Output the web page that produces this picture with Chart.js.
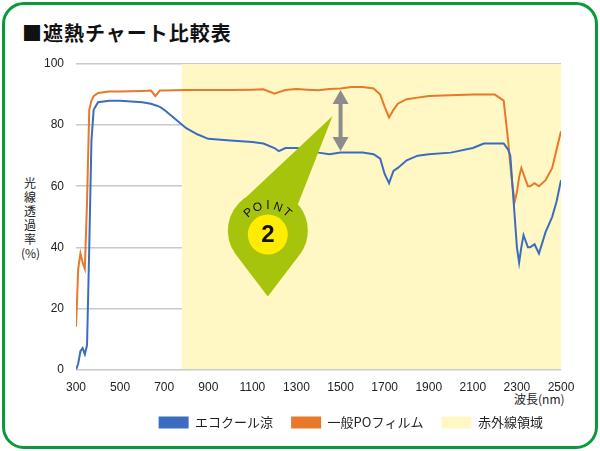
<!DOCTYPE html>
<html><head><meta charset="utf-8">
<script src="https://cdn.jsdelivr.net/npm/chart.js@4"></script>
<style>
body{margin:0;background:#fff;font-family:"Noto Sans CJK JP",sans-serif;}
#wrap{position:relative;width:600px;height:451px;}
#frame{position:absolute;left:2px;top:2px;width:590px;height:441px;border:3px solid #0a9a3c;border-radius:22px;}
#title{position:absolute;left:22px;top:18px;font-size:20px;font-weight:bold;color:#111;letter-spacing:1px;}
#ylab{position:absolute;left:24px;top:176px;width:14px;font-size:12px;line-height:14px;color:#222;}
#xlab{position:absolute;left:514px;top:390px;font-size:12px;color:#222;}
canvas{position:absolute;left:0;top:0;}
</style></head><body>
<div id="wrap">
<div id="frame"></div>
<div id="title">■遮熱チャート比較表</div>
<div id="ylab">光線透過率<br><span style="margin-left:-3px">(%)</span></div>
<div id="xlab">波長(nm)</div>
<canvas id="c" width="600" height="451"></canvas>
</div>
<script>
const wavelengths = [300,310,320,330,340,350,360,370,380,400,450,500,600,640,660,680,700,750,800,850,900,1000,1100,1150,1200,1220,1250,1300,1350,1400,1450,1500,1550,1600,1650,1680,1700,1720,1740,1760,1800,1850,1900,2000,2100,2150,2200,2240,2260,2270,2280,2290,2300,2310,2320,2330,2340,2350,2360,2380,2400,2430,2460,2480,2500];
const ecoCool = [0,2,6,7,5,8,40,75,85,87.5,88,88,87.5,87,86.5,86,85,82,79,77,75.5,75,74.5,74,72.5,71.5,72.5,72.5,72,71,70.5,71,71,71,70.5,69,64,61,65,66,68.5,70,70.5,71,72.5,74,74,74,72,70,60,50,40,35,40,44,42,40,40,41,38,45,50,55,62];
const generalPO = [14,33,38,35,33,55,85,88,89.5,90.5,91,91,91.2,91.3,89.5,91.3,91.3,91.4,91.5,91.5,91.5,91.5,91.6,91.7,90.3,90.8,91.5,91.8,91.6,91.4,91.8,92,92.5,92.5,92,90,86,82.5,85,87,88.5,89,89.5,89.8,90,90,90,88,75,67,60,55,58,63,66,64,62,60,60,61,60,62,66,72,78];
const irRange = [780, 2500];
const xTicks = [300,500,700,900,1100,1300,1500,1700,1900,2100,2300,2500];

const pts = arr => wavelengths.map((w,i)=>({x:w,y:arr[i]}));

const pointMarker = {
  id:'pointMarker',
  afterDatasetsDraw(chart){
    const {ctx, scales:{x,y}} = chart;
    const ax = x.getPixelForValue(1500), y1 = y.getPixelForValue(91.5), y2 = y.getPixelForValue(71.5);
    ctx.save();
    ctx.strokeStyle='#8c8c8c'; ctx.fillStyle='#8c8c8c'; ctx.lineWidth=4;
    ctx.beginPath(); ctx.moveTo(ax,y1+10); ctx.lineTo(ax,y2-10); ctx.stroke();
    ctx.beginPath(); ctx.moveTo(ax,y1); ctx.lineTo(ax-8,y1+14); ctx.lineTo(ax+8,y1+14); ctx.fill();
    ctx.beginPath(); ctx.moveTo(ax,y2); ctx.lineTo(ax-8,y2-14); ctx.lineTo(ax+8,y2-14); ctx.fill();
    const cx = x.getPixelForValue(1170), cy = y.getPixelForValue(45.5), r = 40;
    ctx.fillStyle='#a6c40c';
    ctx.beginPath(); ctx.moveTo(cx-22,cy-33); ctx.lineTo(ax-8,y.getPixelForValue(83)); ctx.lineTo(cx+30,cy-26); ctx.fill();
    ctx.beginPath(); ctx.arc(cx,cy,r,Math.PI*0.8,Math.PI*2.2); ctx.lineTo(cx,cy+r+26); ctx.closePath(); ctx.fill();
    ctx.fillStyle='#ffec00'; ctx.beginPath(); ctx.arc(cx,cy+4,20,0,Math.PI*2); ctx.fill();
    ctx.fillStyle='#111'; ctx.font='bold 24px "Liberation Sans", sans-serif';
    ctx.textAlign='center'; ctx.textBaseline='middle'; ctx.fillText('2',cx,cy+5);
    ctx.font='12px "Liberation Sans", sans-serif';
    const word='POINT';
    for(let i=0;i<5;i++){
      const a = -Math.PI/2 + (i-2)*0.36;
      ctx.save(); ctx.translate(cx+Math.cos(a)*29, cy+4+Math.sin(a)*29); ctx.rotate(a+Math.PI/2);
      ctx.fillText(word[i],0,0); ctx.restore();
    }
    ctx.restore();
  }
};

new Chart(document.getElementById('c'), {
  type:'line',
  data:{datasets:[
    {label:'エコクール涼', data:pts(ecoCool), borderColor:'#3b6cc0', borderWidth:2, pointRadius:0, tension:0, order:1},
    {label:'一般POフィルム', data:pts(generalPO), borderColor:'#e8782a', borderWidth:2, pointRadius:0, tension:0, order:2},
    {label:'赤外線領域', data:[{x:irRange[0],y:100},{x:irRange[1],y:100}], borderWidth:0, borderColor:'rgba(0,0,0,0)', backgroundColor:'#fff8c4', fill:'origin', pointRadius:0, order:10}
  ]},
  options:{
    responsive:false, animation:false,
    layout:{padding:{left:32,right:39,top:64,bottom:12}},
    plugins:{
      tooltip:{enabled:false},
      legend:{position:'bottom', align:'end',
        labels:{font:{size:13,family:'"Noto Sans CJK JP"'}, color:'#222', boxWidth:30, boxHeight:12, padding:18,
          generateLabels(chart){
            return chart.data.datasets.map((d,i)=>({
              text:d.label, datasetIndex:i,
              fillStyle: i===2 ? '#fff8c4' : d.borderColor,
              strokeStyle: i===2 ? '#fff8c4' : d.borderColor,
              lineWidth:0, fontColor:'#222'
            }));
          }}}
    },
    scales:{
      x:{type:'linear', min:300, max:2500, grid:{display:false}, border:{display:false},
        afterBuildTicks(s){ s.ticks = xTicks.map(v=>({value:v})); },
        ticks:{font:{size:12,family:'"Liberation Sans"'}, color:'#222', maxRotation:0, callback:v=>String(v)}},
      y:{min:0, max:100, grid:{color:'#c8c8d0', lineWidth:1.5, drawTicks:false}, border:{display:false},
        ticks:{stepSize:20, padding:12, font:{size:12,family:'"Liberation Sans"'}, color:'#222'}}
    }
  },
  plugins:[pointMarker]
});
</script>
</body></html>
